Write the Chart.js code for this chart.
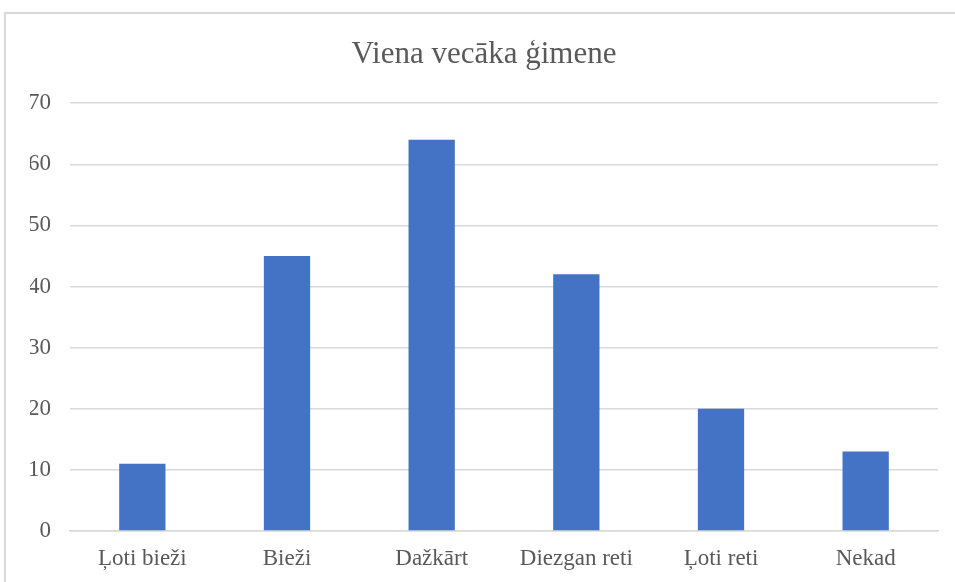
<!DOCTYPE html>
<html>
<head>
<meta charset="utf-8">
<script src="https://cdn.jsdelivr.net/npm/chart.js@4/dist/chart.umd.min.js"></script>
<style>
  html, body { margin: 0; padding: 0; background: #fff; }
  #wrap { position: relative; width: 955px; height: 582px; overflow: hidden; }
  #frame { position: absolute; left: 4px; top: 12px; width: 1000px; height: 1000px; border: 2px solid #d9d9d9; box-sizing: border-box; }
  #c { position: absolute; left: 0; top: 0; }
</style>
</head>
<body>
<div id="wrap">
  <div id="frame"></div>
  <canvas id="c" width="955" height="582"></canvas>
</div>
<script>
const titleText = "Viena vecāka ģimene";
const categories = ["Ļoti bieži", "Bieži", "Dažkārt", "Diezgan reti", "Ļoti reti", "Nekad"];
const values = [11, 45, 64, 42, 20, 13];
const yTicks = [0, 10, 20, 30, 40, 50, 60, 70];

const FONT = "'Liberation Serif', 'Times New Roman', serif";
const TEXT = "#595959";
const GRID = "#d9d9d9";

new Chart(document.getElementById('c'), {
  type: 'bar',
  data: {
    labels: categories,
    datasets: [{
      data: values,
      backgroundColor: '#4472C4',
      borderWidth: 0,
      barPercentage: 0.32,
      categoryPercentage: 1.0
    }]
  },
  options: {
    responsive: false,
    animation: false,
    devicePixelRatio: 1,
    layout: { padding: { left: 30, right: 17, top: 0, bottom: 6 } },
    plugins: {
      legend: { display: false },
      tooltip: { enabled: false },
      title: {
        display: true,
        text: titleText,
        color: TEXT,
        font: { family: FONT, size: 31, weight: 'normal', lineHeight: 1.2 },
        padding: { top: 36, bottom: 30 }
      }
    },
    scales: {
      x: {
        grid: { display: false, drawTicks: false },
        border: { display: true, color: GRID, width: 1.5 },
        ticks: { color: TEXT, font: { family: FONT, size: 23 }, padding: 14, maxRotation: 0 },
        afterFit: (axis) => { axis.height = 45; }
      },
      y: {
        min: 0,
        max: 70,
        afterBuildTicks: (axis) => { axis.ticks = yTicks.map(v => ({ value: v })); },
        grid: { color: GRID, lineWidth: 1.5, drawTicks: false },
        border: { display: false },
        ticks: { color: TEXT, font: { family: FONT, size: 23 }, padding: 19 },
        afterFit: (axis) => { axis.width = 40; }
      }
    }
  }
});
</script>
</body>
</html>
